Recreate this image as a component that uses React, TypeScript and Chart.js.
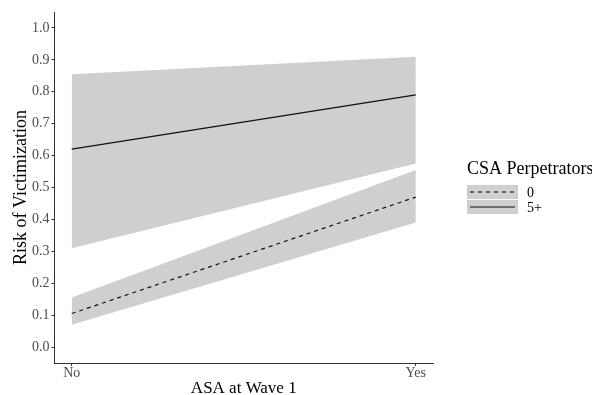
import React, { useEffect, useRef } from "react";
import { Chart, registerables } from "chart.js";

Chart.register(...registerables);

// ---- Data ----
const xCategories = ["No", "Yes"];
const xPositions = [0, 1];
const yTickValues = [0, 0.1, 0.2, 0.3, 0.4, 0.5, 0.6, 0.7, 0.8, 0.9, 1.0];
const legendTitle = "CSA Perpetrators";
const seriesNames = ["0", "5+"];

const est0 = [0.105, 0.47];
const lower0 = [0.07, 0.39];
const upper0 = [0.155, 0.555];

const est5 = [0.62, 0.79];
const lower5 = [0.31, 0.575];
const upper5 = [0.855, 0.91];

const FONT = "'Liberation Serif', 'Times New Roman', serif";
const BAND = "rgb(207,207,207)";

const toPts = (ys: number[]) => ys.map((y, i) => ({ x: xPositions[i], y }));

const legendPlugin = {
  id: "customLegend",
  afterDraw(chart: any) {
    const ctx = chart.ctx as CanvasRenderingContext2D;
    ctx.save();
    const x0 = 467;
    ctx.fillStyle = "#000";
    ctx.font = `18px ${FONT}`;
    ctx.textBaseline = "alphabetic";
    ctx.textAlign = "left";
    ctx.fillText(legendTitle, x0, 174);
    const keyW = 51;
    const keyH = 14;
    const tops = [185, 200];
    seriesNames.forEach((name, i) => {
      const top = tops[i];
      ctx.fillStyle = BAND;
      ctx.fillRect(x0, top, keyW, keyH);
      ctx.strokeStyle = "#111";
      ctx.lineWidth = 1.1;
      ctx.setLineDash(i === 0 ? [4, 4] : []);
      ctx.beginPath();
      ctx.moveTo(x0 + 3, top + keyH / 2);
      ctx.lineTo(x0 + keyW - 3, top + keyH / 2);
      ctx.stroke();
      ctx.setLineDash([]);
      ctx.fillStyle = "#000";
      ctx.font = `14px ${FONT}`;
      ctx.textBaseline = "middle";
      ctx.fillText(name, x0 + 60, top + keyH / 2 + 1);
    });
    ctx.restore();
  },
};

export default function App() {
  const ref = useRef<HTMLCanvasElement | null>(null);

  useEffect(() => {
    document.body.style.margin = "0";
    const canvas = ref.current!;
    const chart = new Chart(canvas, {
      type: "line",
      data: {
        datasets: [
          {
            label: "lower5",
            data: toPts(lower5),
            borderWidth: 0,
            pointRadius: 0,
            fill: false,
            backgroundColor: BAND,
          },
          {
            label: "upper5",
            data: toPts(upper5),
            borderWidth: 0,
            pointRadius: 0,
            fill: "-1",
            backgroundColor: BAND,
          },
          {
            label: "lower0",
            data: toPts(lower0),
            borderWidth: 0,
            pointRadius: 0,
            fill: false,
            backgroundColor: BAND,
          },
          {
            label: "upper0",
            data: toPts(upper0),
            borderWidth: 0,
            pointRadius: 0,
            fill: "-1",
            backgroundColor: BAND,
          },
          {
            label: seriesNames[1],
            data: toPts(est5),
            borderColor: "#111",
            borderWidth: 1.2,
            pointRadius: 0,
            fill: false,
          },
          {
            label: seriesNames[0],
            data: toPts(est0),
            borderColor: "#111",
            borderWidth: 1.2,
            borderDash: [4, 4],
            pointRadius: 0,
            fill: false,
          },
        ],
      },
      options: {
        responsive: false,
        animation: false,
        layout: { padding: { top: 12, right: 159, bottom: -2, left: 12 } },
        plugins: {
          legend: { display: false },
          tooltip: { enabled: false },
          filler: { drawTime: "beforeDatasetsDraw" },
        } as any,
        scales: {
          x: {
            type: "linear",
            min: -0.05,
            max: 1.05,
            afterBuildTicks: (scale: any) => {
              scale.ticks = xPositions.map((v) => ({ value: v }));
            },
            ticks: {
              callback: (v: any) => {
                const i = xPositions.indexOf(Number(v));
                return i >= 0 ? xCategories[i] : "";
              },
              color: "#4d4d4d",
              font: { family: FONT, size: 14, lineHeight: 1 },
              padding: 0,
              maxRotation: 0,
            },
            grid: {
              drawOnChartArea: false,
              drawTicks: true,
              tickLength: 3,
              color: "#333",
            },
            border: { display: true, color: "#333", width: 1 },
            title: {
              display: true,
              text: "ASA at Wave 1",
              color: "#000",
              font: { family: FONT, size: 17, lineHeight: 1 },
              padding: { top: 0, bottom: 0 },
            },
          },
          y: {
            type: "linear",
            min: -0.05,
            max: 1.05,
            afterBuildTicks: (scale: any) => {
              scale.ticks = yTickValues.map((v) => ({ value: v }));
            },
            ticks: {
              callback: (v: any) => Number(v).toFixed(1),
              color: "#4d4d4d",
              font: { family: FONT, size: 14 },
              padding: 2,
            },
            grid: {
              drawOnChartArea: false,
              drawTicks: true,
              tickLength: 3,
              color: "#333",
            },
            border: { display: true, color: "#333", width: 1 },
            title: {
              display: true,
              text: "Risk of Victimization",
              color: "#000",
              font: { family: FONT, size: 18, lineHeight: 1 },
              padding: { top: 0, bottom: 0 },
            },
          },
        },
      },
      plugins: [legendPlugin],
    });
    return () => chart.destroy();
  }, []);

  return (
    <div style={{ position: "absolute", left: 0, top: 0, width: 592, height: 395, background: "#fff" }}>
      <canvas ref={ref} width={592} height={395} style={{ display: "block" }} />
    </div>
  );
}
